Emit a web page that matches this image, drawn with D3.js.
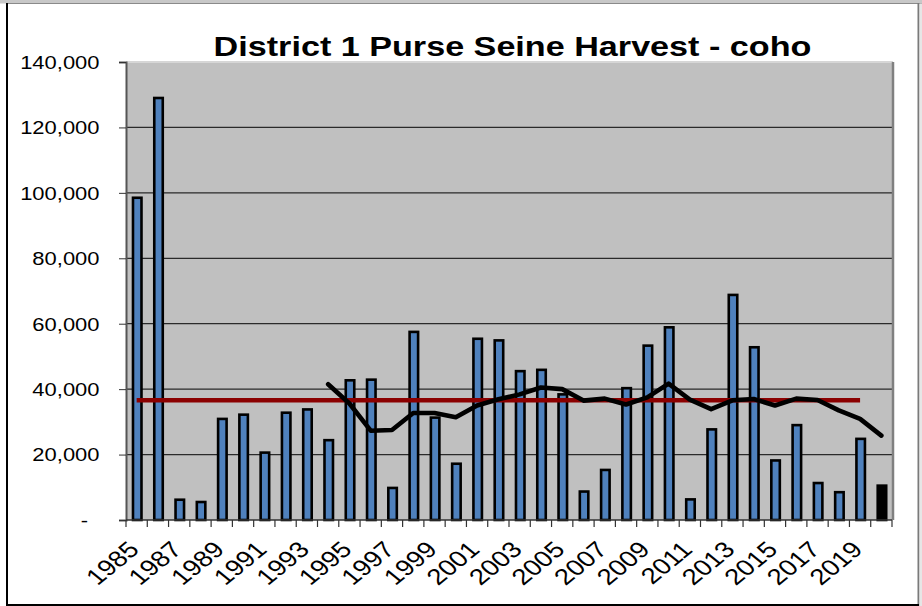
<!DOCTYPE html>
<html><head><meta charset="utf-8">
<script src="https://cdn.jsdelivr.net/npm/d3@7"></script>
<style>
body{margin:0;background:#fff;}
text{font-family:"Liberation Sans",Arial,Helvetica,sans-serif;fill:#000;}
</style>
</head><body>
<svg id="chart" width="922" height="606"></svg>
<script>
// ---- data ----
const title = "District 1 Purse Seine Harvest - coho";
const years = [1985,1986,1987,1988,1989,1990,1991,1992,1993,1994,1995,1996,1997,1998,1999,2000,2001,2002,2003,2004,2005,2006,2007,2008,2009,2010,2011,2012,2013,2014,2015,2016,2017,2018,2019,2020];
const harvest = [98500,129000,6200,5500,30900,32200,20600,32800,33800,24400,42700,42900,9800,57500,31300,17200,55400,54900,45500,45900,38400,8700,15300,40300,53300,58900,6300,27700,68800,52800,18200,29000,11300,8500,24800,10500];
const highlightYear = 2020;
const avgYears = [1994,1995,1996,1997,1998,1999,2000,2001,2002,2003,2004,2005,2006,2007,2008,2009,2010,2011,2012,2013,2014,2015,2016,2017,2018,2019,2020];
const movingAvg = [41500,35600,27300,27500,32700,32700,31400,35000,36900,38400,40500,40000,36500,37100,35300,37500,41700,36800,33900,36600,37000,35000,37100,36700,33500,30900,25800];
const meanYears = [1985,2019];
const meanValue = 36600;
const yTicks = [0,20000,40000,60000,80000,100000,120000,140000];

// ---- layout ----
const svg = d3.select("#chart");
const W = 922, H = 606;
const L = 126, R = 892, T = 62, B = 520;
const SX = 1.22; // horizontal stretch of the original text

const x = d3.scaleBand().domain(years).range([L, R]).padding(0);
const bw = x.bandwidth();
const y = d3.scaleLinear().domain([0, 140000]).range([B, T]);

// outer frame
svg.append("rect").attr("x",0).attr("y",0).attr("width",W).attr("height",3.5).attr("fill","#c8c8c8");
svg.append("line").attr("x1",7).attr("x2",W).attr("y1",3.5).attr("y2",3.5).attr("stroke","#8a8a8a").attr("stroke-width",1);
svg.append("line").attr("x1",7).attr("x2",7).attr("y1",3).attr("y2",H).attr("stroke","#000").attr("stroke-width",2);
svg.append("line").attr("x1",918.5).attr("x2",918.5).attr("y1",3).attr("y2",H).attr("stroke","#7a7a7a").attr("stroke-width",2);
svg.append("rect").attr("x",919.5).attr("y",3.5).attr("width",3).attr("height",H).attr("fill","#e6e6e6");
svg.append("line").attr("x1",7).attr("x2",919).attr("y1",605).attr("y2",605).attr("stroke","#000").attr("stroke-width",2);

// plot background
svg.append("rect").attr("x",L).attr("y",T).attr("width",R-L).attr("height",B-T).attr("fill","#c0c0c0");

// gridlines
svg.append("g").selectAll("line").data(yTicks.filter(d => d > 0 && d < 140000)).join("line")
  .attr("x1",L).attr("x2",R).attr("y1",d => y(d)).attr("y2",d => y(d))
  .attr("stroke","#2a2a2a").attr("stroke-width",1.2);

// plot border top / right
svg.append("line").attr("x1",L).attr("x2",R+1).attr("y1",T).attr("y2",T).attr("stroke","#d6d6d6").attr("stroke-width",2);
svg.append("line").attr("x1",R+1).attr("x2",R+1).attr("y1",T).attr("y2",B).attr("stroke","#808080").attr("stroke-width",2.5);

// bars
svg.append("g").selectAll("rect").data(years.map((yr,i) => ({yr, v: harvest[i]}))).join("rect")
  .attr("x", d => x(d.yr) + bw/2 - 4.25 + 0.6)
  .attr("width", 8.5)
  .attr("y", d => y(d.v))
  .attr("height", d => y(0) - y(d.v))
  .attr("fill", d => d.yr === highlightYear ? "#000" : "#4f81bd")
  .attr("stroke","#000").attr("stroke-width",2.6);

// mean line
svg.append("line")
  .attr("x1", x(meanYears[0]) + bw/2).attr("x2", x(meanYears[1]) + bw/2)
  .attr("y1", y(meanValue)).attr("y2", y(meanValue))
  .attr("stroke","#8b0000").attr("stroke-width",4.5);

// moving average line
const line = d3.line().x(d => x(d.yr) + bw/2).y(d => y(d.v));
svg.append("path").datum(avgYears.map((yr,i) => ({yr, v: movingAvg[i]})))
  .attr("d", line).attr("fill","none").attr("stroke","#000")
  .attr("stroke-width",4.6).attr("stroke-linejoin","round").attr("stroke-linecap","round");

// y axis
const yAxis = svg.append("g").attr("transform", `translate(${L},0)`)
  .call(d3.axisLeft(y).tickValues(yTicks).tickSize(7).tickFormat(d => d === 0 ? "-" : d3.format(",")(d)));
yAxis.select(".domain").attr("stroke","#555").attr("stroke-width",2);
yAxis.selectAll(".tick line").attr("stroke","#333");
yAxis.selectAll(".tick text")
  .attr("x", 0).attr("dy","0.35em")
  .style("font-size","18px").style("font-family","'Liberation Sans',Arial,sans-serif").attr("fill","#000")
  .attr("transform", d => d === 0 ? `translate(-38,0) scale(${SX},1)` : `translate(-26.5,0) scale(${SX},1)`);

// x axis line and ticks
svg.append("line").attr("x1",L).attr("x2",R).attr("y1",B).attr("y2",B).attr("stroke","#333").attr("stroke-width",1.5);
const tickXs = years.map(yr => x(yr)).concat([x.range()[1]]);
svg.append("g").selectAll("line").data(tickXs).join("line")
  .attr("x1", d => d).attr("x2", d => d).attr("y1", B).attr("y2", B + 7)
  .attr("stroke","#333").attr("stroke-width",1.2);

// x labels (every other year)
svg.append("g").selectAll("text").data(years.filter((yr,i) => i % 2 === 0)).join("text")
  .attr("transform", d => `translate(${x(d) + bw/2 + 4},551) scale(${SX},1) rotate(-45)`)
  .attr("text-anchor","end").style("font-size","22.5px")
  .text(d => d);

// title
svg.append("text")
  .attr("transform", `translate(512.5,56) scale(${SX},1)`)
  .attr("text-anchor","middle").style("font-size","28px").style("font-weight","bold")
  .text(title);
</script>
</body></html>
